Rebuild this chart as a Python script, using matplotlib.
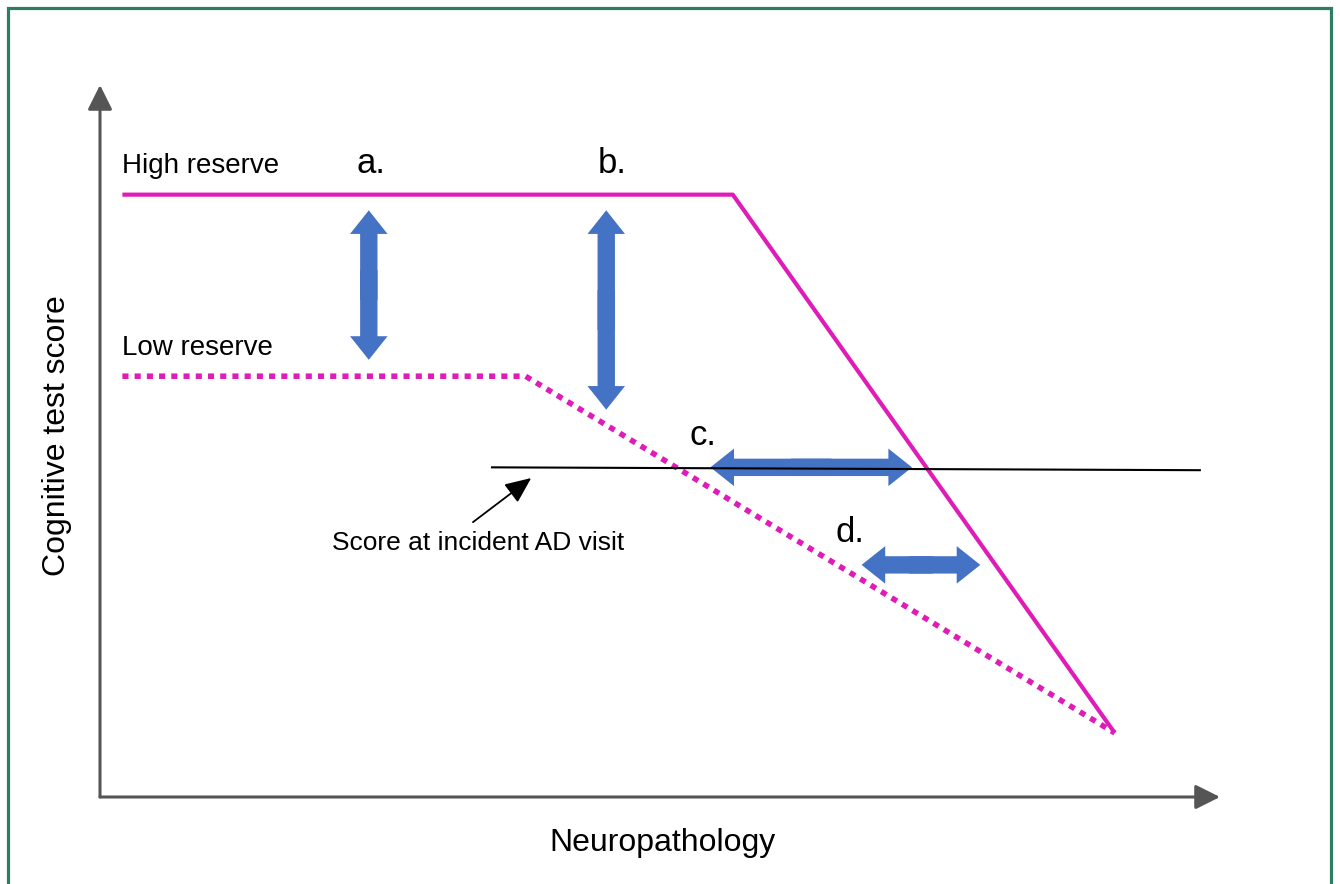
import matplotlib.pyplot as plt
from matplotlib.patches import FancyArrowPatch, Rectangle

plt.rcParams['font.family'] = ['Liberation Sans', 'DejaVu Sans']

# curvas (neuropatologia x escore cognitivo), escala 0-100
alta_x = [2, 56.5, 90.6]
alta_y = [84.6, 84.6, 9.0]
baixa_x = [2, 38, 90.6]
baixa_y = [59.1, 59.1, 9.0]

# escore na visita de DA incidente
limiar_x = [35, 98.2]
limiar_y = [46.3, 45.9]

# setas azuis: rotulo, (x0, y0), (x1, y1)
setas = {
    'a.': ((24.0, 82.4), (24.0, 61.4)),
    'b.': ((45.2, 82.4), (45.2, 54.4)),
    'c.': ((54.5, 46.3), (72.5, 46.3)),
    'd.': ((68.0, 32.6), (78.6, 32.6)),
}
rotulos_pos = {'a.': (24.2, 87.6), 'b.': (45.7, 87.6), 'c.': (53.8, 49.4), 'd.': (67.0, 35.8)}

rosa = '#e01cb8'
azul = '#4472c4'
cinza = '#555555'

fig = plt.figure(figsize=(13.4, 8.84), dpi=100)
ax = fig.add_axes([0, 0, 1, 1])
ax.set_xlim(-100 / 11.2, 1240 / 11.2)
ax.set_ylim(-87 / 7.12, 797 / 7.12)
ax.axis('off')

# eixos com setas
ax.annotate('', xy=(0, 100), xytext=(0, 0),
            arrowprops=dict(arrowstyle='-|>,head_length=0.6,head_width=0.3', lw=2.2,
                            color=cinza, mutation_scale=25, shrinkA=0, shrinkB=0))
ax.annotate('', xy=(100, 0), xytext=(0, 0),
            arrowprops=dict(arrowstyle='-|>,head_length=0.6,head_width=0.3', lw=2.2,
                            color=cinza, mutation_scale=25, shrinkA=0, shrinkB=0))

ax.plot(alta_x, alta_y, color=rosa, lw=3, solid_capstyle='butt')
ax.plot(baixa_x, baixa_y, color=rosa, lw=4, linestyle=(0, (1.1, 1.1)))
ax.plot(limiar_x, limiar_y, color='black', lw=1.5)

for rot, (p0, p1) in setas.items():
    # cada metade parte de 40% do outro lado para sobrepor no meio
    for a, b in ((p0, p1), (p1, p0)):
        ini = (a[0] + 0.6 * (b[0] - a[0]), a[1] + 0.6 * (b[1] - a[1]))
        seta = FancyArrowPatch(ini, a, arrowstyle='simple,head_length=0.34,head_width=0.54,tail_width=0.25',
                               mutation_scale=50, color=azul, shrinkA=0, shrinkB=0, lw=0)
        ax.add_patch(seta)
    x, y = rotulos_pos[rot]
    ax.text(x, y, rot, fontsize=25, ha='center', va='baseline')

ax.text(2.0, 87.6, 'High reserve', fontsize=20, ha='left', va='baseline')
ax.text(2.0, 62.1, 'Low reserve', fontsize=20, ha='left', va='baseline')
ax.text(20.7, 34.7, 'Score at incident AD visit', fontsize=19, ha='left', va='baseline')
ax.annotate('', xy=(38.5, 44.8), xytext=(33.3, 38.6),
            arrowprops=dict(arrowstyle='-|>,head_length=0.8,head_width=0.35', lw=1.3,
                            color='black', mutation_scale=20, shrinkA=0, shrinkB=0))

ax.text(-3.84, 50.8, 'Cognitive test score', fontsize=23, rotation=90, ha='center', va='center')
ax.text(50.2, -6.5, 'Neuropathology', fontsize=23, ha='center', va='center')

fig.add_artist(Rectangle((8 / 1340, -0.02), 1323 / 1340, 876 / 884 + 0.02, transform=fig.transFigure,
                         fill=False, edgecolor='#2e7d61', lw=2.3))

fig.savefig('out.png', dpi=100)
